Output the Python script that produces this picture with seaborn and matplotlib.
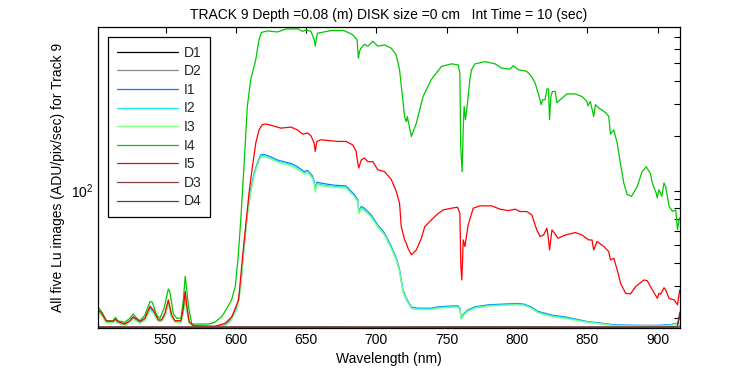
import seaborn as sns
import matplotlib.pyplot as plt
import matplotlib.ticker as mticker
import pandas as pd

# wavelength grid for the three near-identical I1/I2/I3 curves
wl_i = [502, 504.4, 508, 512.7, 514.4, 516, 521, 524.6, 527, 531.8, 535.3, 539, 541.3, 544.9,
        547.2, 549.6, 552, 554.4, 556.8, 561, 562.7, 564, 565, 566.8, 569.9, 585.3, 592.5,
        596.3, 601, 603.4, 605.8, 608.2, 610.6, 613, 615.3, 617.7, 620.1, 624.9, 629.6, 634.4,
        640.3, 643.9, 648.7, 651.1, 654.6, 655.8, 656.5, 657.7, 663, 670.1, 678.4, 684.4,
        686.8, 687.5, 689.2, 691.5, 696.3, 701, 705.8, 710.6, 714.2, 716.5, 718.9, 721.3,
        724.9, 729.6, 739.2, 744, 752, 758, 759.5, 760.3, 762, 765, 770, 780, 790, 800, 805,
        810, 815, 820, 825, 835, 850, 860, 870, 890, 900, 910, 915]
i1 = [22.0, 21.0, 19.0, 19.0, 19.5, 18.9, 18.4, 19.1, 20.0, 18.9, 19.6, 22.6, 21.6, 19.3,
      19.3, 20.8, 24.4, 20.4, 19.1, 19.1, 22.0, 27.0, 23.0, 18.9, 18.0, 17.9, 18.3,
      19.5, 23.2, 29.7, 49.3, 75, 101, 124, 141, 157, 158, 153, 147, 144,
      140, 135, 127, 129, 120, 112, 101, 111, 109, 107, 106, 95,
      89, 76.7, 81.7, 80, 73.5, 64.8, 58.3, 49.3, 42.5, 36.7, 28.5, 25.6,
      22.9, 22.6, 22.6, 23.0, 23.2, 23.3, 22.5, 19.9, 21.0, 22.1, 23.0, 23.6, 23.8, 24.0, 23.8,
      23.0, 21.7, 21.2, 20.7, 20.2, 19.1, 18.7, 18.3, 18.2, 18.2, 18.4, 18.8]
i2 = [21.8, 20.8, 18.9, 18.9, 19.3, 18.8, 18.3, 19.0, 19.8, 18.8, 19.5, 22.3, 21.4, 19.2,
      19.2, 20.6, 24.0, 20.2, 19.0, 19.0, 21.7, 26.5, 22.7, 18.8, 17.95, 17.85, 18.2,
      19.3, 22.8, 29.2, 48.5, 74, 99, 122, 139, 155, 156, 151, 145, 142,
      138, 133, 125, 127, 118, 110, 99.5, 109, 107, 105.5, 104.5, 93.5,
      87.8, 75.6, 80.5, 78.8, 72.4, 63.9, 57.5, 48.6, 41.9, 36.2, 28.1, 25.3,
      22.7, 22.4, 22.4, 22.8, 23.0, 23.1, 22.3, 19.8, 20.8, 21.9, 22.8, 23.4, 23.6, 23.8, 23.6,
      22.8, 21.5, 21.0, 20.5, 20.0, 19.0, 18.6, 18.2, 18.1, 18.1, 18.3, 18.7]
i3 = [21.6, 20.6, 18.8, 18.8, 19.2, 18.7, 18.2, 18.9, 19.6, 18.7, 19.3, 22.0, 21.2, 19.1,
      19.1, 20.4, 23.7, 20.0, 18.9, 18.9, 21.4, 26.0, 22.4, 18.7, 17.9, 17.8, 18.1,
      19.1, 22.4, 28.6, 47.5, 72.5, 97, 120, 137, 152, 154, 149, 143, 140,
      136, 131, 123.5, 125.5, 116.5, 108.5, 98, 107.5, 105.5, 104, 103, 92.2,
      86.6, 74.5, 79.3, 77.6, 71.3, 63, 56.7, 48, 41.3, 35.7, 27.8, 25.0,
      22.5, 22.2, 22.2, 22.6, 22.8, 22.9, 22.1, 19.6, 20.6, 21.7, 22.6, 23.2, 23.4, 23.6, 23.4,
      22.6, 21.3, 20.8, 20.3, 19.8, 18.9, 18.5, 18.1, 18.0, 18.0, 18.2, 18.6]

wl_i4 = [502, 504.4, 508, 512.7, 514.4, 516, 521, 524.6, 527, 529.4, 531.8, 535.3, 539, 540.6,
         543.7, 546, 549, 552, 553, 555.6, 558, 561, 562.7, 564, 564.6, 566.3, 568.7, 580.6,
         585, 590, 593.7, 597, 599.6, 601.5, 603.6, 605.8, 607, 608.2, 610.6, 614.2, 616.5,
         618.2, 622.5, 629.6, 635.6, 644, 647.5, 650, 653.4, 655.8, 656.5, 658, 667.7, 677,
         683, 686.3, 687.2, 688, 689, 691.5, 694, 697.5, 701, 706, 710.6, 714, 716.5, 719,
         720, 721.3, 722, 724.9, 728.4, 733.2, 739, 746.3, 753.4, 758.2, 759.4, 760, 761,
         761.7, 762.4, 763.4, 764.8, 766.5, 767.7, 770, 777.2, 784.4, 789, 795, 797.4, 801,
         807, 810.5, 813, 815.8, 817.2, 818.2, 820, 821.3, 822.4, 823.2, 824.1, 825.3, 827.2,
         828.4, 830.8, 835.5, 841.5, 846.3, 849.8, 850.5, 852.2, 854.6, 855.8, 858.2, 863,
         865.3, 866.5, 868.9, 871.3, 873.6, 876, 878.4, 881.5, 885.5, 889, 892, 895, 896.3,
         899, 899.8, 901, 903, 904.6, 905.8, 908.2, 910.6, 913, 914.2, 915.3, 916.5]
i4 = [23.0, 21.7, 19.3, 19.3, 20.1, 19.3, 18.9, 19.9, 21.0, 20.0, 19.3, 20.7, 24.6, 24.4,
      20.7, 19.9, 22.6, 28.8, 28.0, 21.0, 19.9, 19.9, 25.1, 33.8, 31.0, 23.2, 18.5, 18.5,
      18.9, 20.3, 22.6, 25.1, 29.7, 41.6, 70, 135, 198, 289, 406, 523, 672,
      737, 752, 742, 770, 772, 748, 760, 748, 672, 620, 730, 755, 755,
      718, 672, 533, 580, 604, 635, 620, 660, 620, 630, 604, 558, 460, 305,
      255, 239, 255, 198, 234, 328, 406, 480, 496, 489, 441, 174, 127,
      207, 289, 245, 302, 406, 460, 495, 510, 496, 470, 464, 484, 460,
      451, 422, 387, 328, 296, 315, 315, 361, 361, 245, 328, 350, 350,
      304, 315, 339, 339, 328, 308, 292, 308, 255, 296, 284, 268,
      255, 204, 215, 182, 141, 110, 95, 93, 105, 127, 135, 124, 110,
      97, 91, 101, 93, 110, 105, 82, 77, 78, 61, 69, 72]

wl_i5 = [502, 504.4, 508, 512.7, 514.4, 516, 521, 524.6, 527, 531.8, 535.3, 539, 541.3, 544.9,
         547.2, 549.6, 552, 554.4, 556.8, 561, 562.7, 564, 565, 566.8, 569.9, 585.3, 592.5,
         597.2, 602, 604.6, 607, 609.4, 611.8, 614.2, 616.5, 618.9, 621.3, 626.1, 632, 639.2,
         643.9, 647.5, 651.1, 653.4, 655.8, 656.5, 657.7, 660.6, 672.5, 678.4, 683.2, 685.6,
         686.8, 687.5, 689.2, 691.5, 694, 697.5, 701, 705.8, 710.6, 714.2, 716.5, 717.7,
         720.1, 721.3, 722.5, 724.9, 728.4, 732, 734.4, 739.1, 742.7, 747.5, 753.4, 757.7,
         759.4, 760.1, 760.8, 761.8, 763, 765.3, 768.9, 773.7, 782, 788, 793.9, 798.7, 802.2,
         807, 810.6, 814.1, 816.5, 818.9, 821.3, 822.5, 823.2, 824.9, 826.8, 829.1, 834.4,
         841.5, 846.3, 851, 853.4, 854.6, 857, 861.8, 865.3, 866.5, 868.9, 871.3, 873.7,
         877.3, 880.8, 884.4, 890.3, 892.7, 896.3, 899.9, 901, 902.3, 904.6, 905.8, 908.2,
         911.8, 914.2, 915.8]
i5 = [22.1, 21.4, 19.2, 19.2, 19.7, 19.1, 18.5, 19.3, 20.3, 19.1, 19.9, 23.2, 22.1, 19.5,
      19.5, 21.2, 25.1, 20.7, 19.3, 19.3, 22.6, 28.0, 23.6, 19.1, 18.1, 18.0, 18.7,
      20.3, 25.1, 41.6, 63.4, 96.8, 135, 182, 215, 230, 232, 227, 220, 223,
      215, 204, 207, 200, 182, 164, 186, 190, 186, 186, 178, 164,
      141, 133, 147, 151, 144, 144, 130, 127, 115, 98.7, 85, 63.4,
      53.6, 51.4, 48.2, 44.4, 47.2, 54.7, 63.4, 69, 73.5, 78.3, 80, 81,
      75, 38.2, 32.3, 53.6, 49.3, 64.8, 80, 82.4, 82.4, 79, 77.6, 79, 76.7,
      76.7, 73.5, 60.8, 55.9, 57, 62.2, 53.6, 47.2, 60.8, 58.3, 54.7, 57,
      58.8, 57, 53.6, 53.5, 47.2, 52.5, 49.3, 46.2, 41.6, 42.5, 36.7, 31.0,
      27.3, 27.1, 29.7, 32.3, 32.0, 28.5, 25.6, 27.3, 27.0, 29.3, 28.5, 25.6,
      25.1, 23.6, 28.5]

wl_d = [502, 550, 600, 650, 700, 750, 800, 850, 900, 914, 915.8]
d1 = [17.75, 17.72, 17.74, 17.73, 17.72, 17.74, 17.73, 17.72, 17.73, 17.74, 17.9]
d2 = [17.78, 17.76, 17.77, 17.78, 17.76, 17.77, 17.78, 17.76, 17.77, 17.78, 18.1]
d3 = [17.8, 17.79, 17.8, 17.81, 17.79, 17.8, 17.81, 17.79, 17.8, 17.85, 21.5]
d4 = [17.82, 17.81, 17.82, 17.83, 17.81, 17.82, 17.83, 17.81, 17.82, 17.9, 20.5]

labels = ["D1", "D2", "I1", "I2", "I3", "I4", "I5", "D3", "D4"]
colors = ["#000000", "#8c8c8c", "#0a7ff5", "#1ee6f0", "#80ff80", "#00c800", "#ff0000",
          "#804040", "#703838"]

sns.set_theme(style="white")
plt.rcParams["font.family"] = ["Liberation Sans", "DejaVu Sans"]
plt.rcParams["mathtext.default"] = "regular"

series = [(wl_d, d1), (wl_d, d2), (wl_i, i1), (wl_i, i2), (wl_i, i3),
          (wl_i4, i4), (wl_i5, i5), (wl_d, d3), (wl_d, d4)]

fig = plt.figure(figsize=(7.5, 3.75), dpi=100)
ax = fig.add_axes([0.1307, 0.1253, 0.776, 0.8027])

for (wl, vals), name, c in zip(series, labels, colors):
    df = pd.DataFrame({"wl": wl, "val": vals})
    sns.lineplot(data=df, x="wl", y="val", color=c, lw=0.9, label=name,
                 estimator=None, ax=ax, legend=False)

ax.set_yscale("log")
ax.set_xlim(502, 916)
ax.set_ylim(17.6, 790)
ax.set_xticks([550, 600, 650, 700, 750, 800, 850, 900])
ax.yaxis.set_minor_formatter(mticker.NullFormatter())
ax.tick_params(which="both", direction="in", top=True, right=True, length=4,
               width=0.8, color="black", labelsize=10, labelcolor="black")
for s in ax.spines.values():
    s.set_color("black")
    s.set_linewidth(0.9)

ax.set_xlabel("Wavelength (nm)", fontsize=10, color="black")
ax.set_ylabel("All five Lu images (ADU/pix/sec) for Track 9", fontsize=10, color="black")
ax.set_title("TRACK 9 Depth =0.08 (m) DISK size =0 cm   Int Time = 10 (sec)",
             fontsize=10, color="black", pad=6)

leg = ax.legend(loc="upper left", fontsize=10, handlelength=4.4, handletextpad=0.45,
                labelspacing=0.33, borderpad=0.6, borderaxespad=0.75, fancybox=False,
                framealpha=1, edgecolor="black")
leg.get_frame().set_linewidth(0.9)

fig.savefig("out.png", dpi=100)
